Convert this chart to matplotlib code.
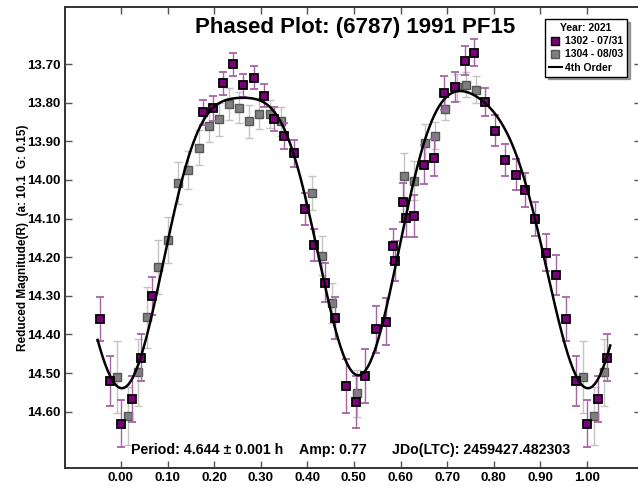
# -*- coding: utf-8 -*-
import numpy as np
import matplotlib
matplotlib.use('Agg')
from matplotlib import pyplot as plt
from matplotlib.lines import Line2D

plt.rcParams['font.family'] = ['Liberation Sans', 'DejaVu Sans']
plt.rcParams['font.weight'] = 'bold'

# session 1302 - 07/31 (purple)
ph1 = [0.000, 0.023, 0.044, 0.066, 0.177, 0.198, 0.220, 0.241, 0.262, 0.285,
       0.307, 0.328, 0.350, 0.371, 0.395, 0.415, 0.438, 0.459, 0.482, 0.504,
       0.524, 0.547, 0.569, 0.584, 0.589, 0.606, 0.611, 0.628, 0.650, 0.671,
       0.693, 0.717, 0.738, 0.758, 0.781, 0.802, 0.825, 0.847, 0.868, 0.888,
       0.912, 0.933, 0.955, 0.977]
mag1 = [14.631, 14.568, 14.460, 14.301, 13.825, 13.814, 13.750, 13.700, 13.755, 13.735,
        13.782, 13.842, 13.886, 13.931, 14.076, 14.169, 14.266, 14.357, 14.533, 14.575,
        14.508, 14.387, 14.367, 14.171, 14.210, 14.058, 14.098, 14.093, 13.960, 13.942,
        13.774, 13.759, 13.691, 13.671, 13.798, 13.872, 13.949, 13.986, 14.025, 14.102,
        14.188, 14.246, 14.361, 14.521]
err1 = [0.060, 0.060, 0.060, 0.050, 0.032, 0.032, 0.030, 0.030, 0.030, 0.030,
        0.030, 0.032, 0.034, 0.035, 0.041, 0.042, 0.050, 0.054, 0.070, 0.067,
        0.069, 0.061, 0.061, 0.045, 0.052, 0.050, 0.050, 0.054, 0.050, 0.047,
        0.044, 0.039, 0.037, 0.035, 0.037, 0.040, 0.042, 0.041, 0.044, 0.044,
        0.048, 0.052, 0.057, 0.064]

# session 1304 - 08/03 (gray)
ph2 = [0.015, 0.036, 0.057, 0.079, 0.102, 0.122, 0.144, 0.168, 0.190, 0.211,
       0.232, 0.254, 0.275, 0.297, 0.320, 0.343, 0.409, 0.431, 0.452, 0.506,
       0.608, 0.629, 0.653, 0.675, 0.696, 0.721, 0.740, 0.762, 0.992]
mag2 = [14.611, 14.498, 14.356, 14.225, 14.155, 14.007, 13.974, 13.916, 13.860, 13.843,
        13.804, 13.813, 13.848, 13.828, 13.829, 13.848, 14.035, 14.196, 14.318, 14.553,
        13.991, 14.002, 13.905, 13.886, 13.815, 13.760, 13.753, 13.766, 14.510]
err2 = [0.075, 0.087, 0.080, 0.070, 0.060, 0.054, 0.050, 0.046, 0.042, 0.043,
        0.041, 0.040, 0.043, 0.040, 0.037, 0.037, 0.044, 0.050, 0.052, 0.060,
        0.060, 0.050, 0.050, 0.035, 0.030, 0.035, 0.032, 0.035, 0.094]

# points near the ends get repeated on the other side (phase -0.05 .. 1.05)
def wrap(ph, mag, err):
    ph = np.array(ph); mag = np.array(mag); err = np.array(err)
    hi = ph >= 0.95
    lo = ph < 0.05
    p = np.concatenate([ph, ph[hi] - 1, ph[lo] + 1])
    m = np.concatenate([mag, mag[hi], mag[lo]])
    e = np.concatenate([err, err[hi], err[lo]])
    return p, m, e

x1, y1, e1 = wrap(ph1, mag1, err1)
x2, y2, e2 = wrap(ph2, mag2, err2)

# 4th order fourier fit to all the points (unweighted)
def design(p):
    cols = [np.ones_like(p)]
    for k in range(1, 5):
        cols.append(np.cos(2 * np.pi * k * p))
        cols.append(np.sin(2 * np.pi * k * p))
    return np.column_stack(cols)

allp = np.array(ph1 + ph2)
allm = np.array(mag1 + mag2)
coef, *_ = np.linalg.lstsq(design(allp), allm, rcond=None)
xf = np.linspace(-0.05, 1.05, 400)
yf = design(xf) @ coef

fig = plt.figure(figsize=(6.38, 4.87), dpi=100)
ax = fig.add_axes([65 / 638, 1 - 468 / 487, 576 / 638, 461 / 487])

ax.errorbar(x2, y2, yerr=e2, fmt='s', color='#7f7f7f', ecolor='#c4c4c4',
            mec='#555555', mew=1, ms=6, elinewidth=1, capsize=3, zorder=2)
ax.errorbar(x1, y1, yerr=e1, fmt='s', color='#7b007b', ecolor='#a565a5',
            mec='black', mew=1.3, ms=6, elinewidth=1, capsize=3, zorder=3)
ax.plot(xf, yf, color='black', lw=1.8, zorder=4)

ax.set_xlim(-0.120, 1.116)
ax.set_ylim(14.746, 13.552)
ax.set_xticks(np.arange(0, 1.01, 0.1))
ax.set_xticklabels(['%.2f' % t for t in np.arange(0, 1.01, 0.1)])
ax.set_yticks(np.arange(13.7, 14.61, 0.1))
ax.set_yticklabels(['%.2f' % t for t in np.arange(13.7, 14.61, 0.1)])
ax.tick_params(direction='in', length=5, width=1, color='#555555',
               top=True, right=True, labelsize=9.5, pad=3)
for s in ax.spines.values():
    s.set_linewidth(1.4)
    s.set_color('#333333')

ax.set_ylabel('Reduced Magnitude(R)  (a: 10.1  G: 0.15)', fontsize=8.5,
              fontweight='bold', labelpad=-1)

fig.text(355 / 638, 1 - 27 / 487, 'Phased Plot: (6787) 1991 PF15', fontsize=16,
         fontweight='bold', ha='center', va='center')
fig.text(131 / 638, 1 - 450 / 487, 'Period: 4.644 \u00b1 0.001 h', fontsize=10.2,
         fontweight='bold', va='center')
fig.text(299 / 638, 1 - 450 / 487, 'Amp: 0.77', fontsize=10.2,
         fontweight='bold', va='center')
fig.text(392 / 638, 1 - 450 / 487, 'JDo(LTC): 2459427.482303', fontsize=10.2,
         fontweight='bold', va='center')

handles = [Line2D([], [], ls='none', marker='s', color='#7b007b', mec='black', ms=5.5),
           Line2D([], [], ls='none', marker='s', color='#7f7f7f', mec='#555555', ms=5.5),
           Line2D([], [], color='black', lw=1.5)]
leg = fig.legend(handles, ['1302 - 07/31', '1304 - 08/03', '4th Order'],
                 title='Year: 2021', loc='upper right',
                 bbox_to_anchor=(627 / 638, 1 - 19 / 487), fontsize=7.5,
                 title_fontproperties={'weight': 'bold', 'size': 7.5},
                 frameon=True, fancybox=False, shadow=True, framealpha=1,
                 edgecolor='black', handlelength=1.2, handletextpad=0.3,
                 borderpad=0.4, labelspacing=0.3, borderaxespad=0)
leg.get_frame().set_linewidth(1)

fig.savefig('out.png', dpi=100)
